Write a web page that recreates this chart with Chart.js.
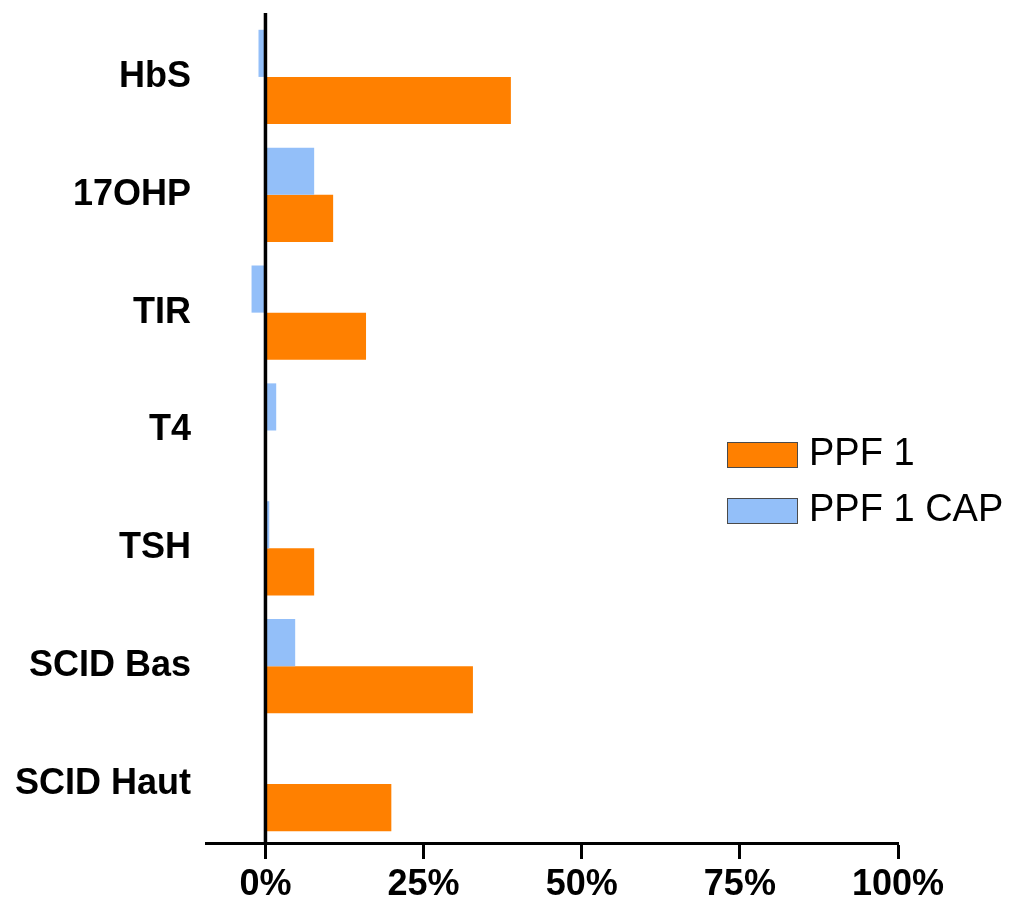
<!DOCTYPE html>
<html>
<head>
<meta charset="utf-8">
<script src="https://cdn.jsdelivr.net/npm/chart.js@4"></script>
<style>
  html, body { margin: 0; padding: 0; background: #fff; }
  #wrap { width: 1018px; height: 905px; }
</style>
</head>
<body>
<div id="wrap"><canvas id="chartCanvas" width="1018" height="905"></canvas></div>
<script>
const categories = ['HbS', '17OHP', 'TIR', 'T4', 'TSH', 'SCID Bas', 'SCID Haut'];
const ppf1 = [38.8, 10.7, 15.9, 0, 7.7, 32.8, 19.9];
const ppf1Cap = [-1.1, 7.7, -2.2, 1.7, 0.6, 4.7, 0];
const tickValues = [0, 25, 50, 75, 100];

const ORANGE = '#FF8000';
const BLUE = '#93BFF9';

document.addEventListener('DOMContentLoaded', function() {
    const ctx = document.getElementById('chartCanvas').getContext('2d');

    // black line at x = 0, drawn over the bars
    const zeroLine = {
        id: 'zeroLine',
        afterDatasetsDraw(chart) {
            const x = chart.scales.x.getPixelForValue(0);
            const c = chart.ctx;
            c.save();
            c.strokeStyle = '#000';
            c.lineWidth = 3.5;
            c.beginPath();
            c.moveTo(x, chart.chartArea.top - 5);
            c.lineTo(x, chart.chartArea.bottom);
            c.stroke();
            c.restore();
        }
    };

    // legend sitting inside the plot, to the right
    const boxLegend = {
        id: 'boxLegend',
        afterDraw(chart) {
            const c = chart.ctx;
            const items = [chart.data.datasets[1], chart.data.datasets[0]];
            c.save();
            items.forEach((ds, i) => {
                const y = 442 + i * 56;
                c.fillStyle = ds.backgroundColor;
                c.fillRect(727, y, 70, 25);
                c.strokeStyle = '#4a4a4a';
                c.lineWidth = 1;
                c.strokeRect(727.5, y + 0.5, 70, 25);
                c.fillStyle = '#000';
                c.font = '38px Arial, "Liberation Sans", sans-serif';
                c.textBaseline = 'middle';
                c.fillText(ds.label, 809, y + 13);
            });
            c.restore();
        }
    };

    const data = {
        labels: categories,
        datasets: [{
            label: 'PPF 1 CAP',
            data: ppf1Cap,
            backgroundColor: BLUE
        }, {
            label: 'PPF 1',
            data: ppf1,
            backgroundColor: ORANGE
        }]
    };

    const config = {
        type: 'bar',
        data: data,
        options: {
            indexAxis: 'y',
            responsive: false,
            animation: false,
            layout: { padding: { top: 18, right: 120, left: 0, bottom: 0 } },
            datasets: {
                bar: { categoryPercentage: 0.8, barPercentage: 1.0 }
            },
            scales: {
                x: {
                    min: -9.4,
                    max: 100,
                    afterBuildTicks: function(scale) {
                        scale.ticks = tickValues.map(v => ({ value: v }));
                    },
                    afterFit: function(scale) { scale.height = 62; },
                    grid: {
                        drawOnChartArea: false,
                        drawTicks: true,
                        tickLength: 16,
                        tickColor: '#000',
                        tickWidth: 3
                    },
                    border: { display: true, color: '#000', width: 3 },
                    ticks: {
                        callback: v => v + '%',
                        color: '#000',
                        padding: 4,
                        maxRotation: 0,
                        font: { family: 'Arial, "Liberation Sans", sans-serif', size: 36, weight: 'bold' }
                    }
                },
                y: {
                    afterFit: function(scale) {
                        scale.width = 206;
                        scale.paddingTop = 0;
                        scale.paddingBottom = 0;
                    },
                    grid: { display: false },
                    border: { display: false },
                    ticks: {
                        color: '#000',
                        padding: 7,
                        font: { family: 'Arial, "Liberation Sans", sans-serif', size: 36, weight: 'bold' }
                    }
                }
            },
            plugins: {
                legend: { display: false },
                tooltip: { enabled: false }
            }
        },
        plugins: [zeroLine, boxLegend]
    };

    const myChart = new Chart(ctx, config);
});
</script>
</body>
</html>
